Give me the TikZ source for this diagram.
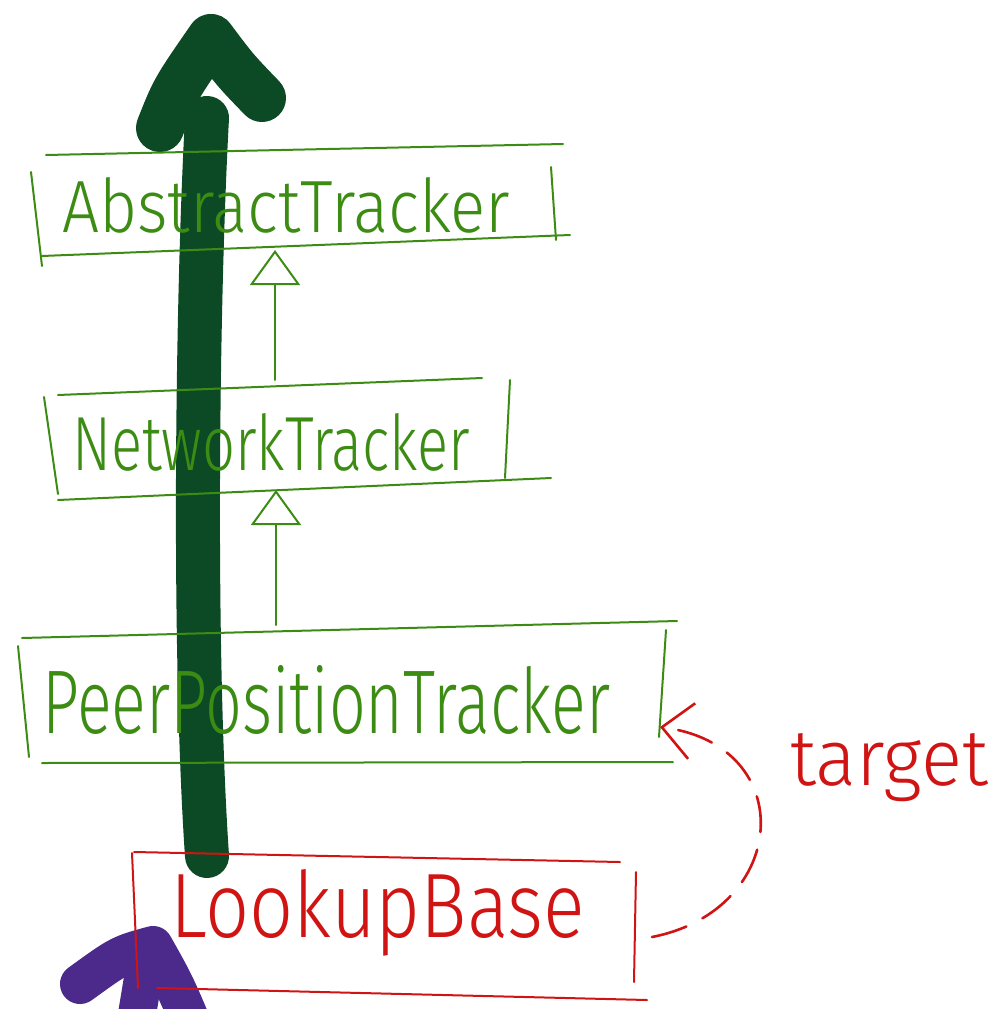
\documentclass[tikz,border=0pt]{standalone}
\usepackage{fontspec}
\usepackage{graphicx}
\newfontfamily\hand{Fira Sans}[UprightFont=* Light]
\usetikzlibrary{arrows.meta}
\definecolor{boxgreen}{HTML}{3C8C14}
\definecolor{bargreen}{HTML}{0B4A24}
\definecolor{penred}{HTML}{D01414}
\definecolor{penpurple}{HTML}{4B2A8C}
\begin{document}
\begin{tikzpicture}[x=1pt,y=-1pt,
  pen/.style={line width=2pt, line cap=round},
  greenpen/.style={pen, draw=boxgreen},
  redpen/.style={pen, draw=penred},
  classlabel/.style={inner sep=0pt, anchor=base west},
  marker/.style={line width=44pt, line cap=round, line join=round},
  inherit/.style={greenpen, -{Triangle[open, length=35pt, width=50pt]}},
  targetarrow/.style={redpen, line width=2.6pt, dash pattern=on 36pt off 18pt,
    -{Straight Barb[length=30pt, width=56pt]}},
]
\useasboundingbox (0,0) rectangle (990,1009);
\clip (0,0) rectangle (990,1009);

% thick marker strokes (drawn first, underneath)
\draw[marker, draw=bargreen] (207,118) .. controls (197,300) and (193,650) .. (207,856);
\draw[marker, line width=48pt, draw=bargreen]
  (160,128) .. controls (175,90) .. (211,38) .. controls (235,70) .. (262,98);
\draw[marker, line width=40pt, draw=penpurple]
  (80,984) .. controls (120,955) .. (153,946) .. controls (175,985) .. (200,1045);
\draw[marker, line width=38pt, draw=penpurple] (145,966) -- (132,1045);

% AbstractTracker box
\draw[greenpen] (46,155) -- (563,144);
\draw[greenpen] (42,256) -- (570,235);
\draw[greenpen] (31,172) -- (42,266);
\draw[greenpen] (551,167) -- (556,240);
\node[classlabel, text=boxgreen] (at) at (62,232) {\resizebox{448pt}{55pt}{\hand AbstractTracker}};

% NetworkTracker box
\draw[greenpen] (58,395) -- (482,378);
\draw[greenpen] (58,500) -- (551,478);
\draw[greenpen] (44,397) -- (58,494);
\draw[greenpen] (510,380) -- (505,478);
\node[classlabel, text=boxgreen] (nt) at (72,470) {\resizebox{398pt}{57pt}{\hand NetworkTracker}};

% PeerPositionTracker box
\draw[greenpen] (22,638) -- (677,621);
\draw[greenpen] (42,763) -- (673,762);
\draw[greenpen] (18,646) -- (29,757);
\draw[greenpen] (666,630) -- (659,737);
\node[classlabel, text=boxgreen] (ppt) at (42,733) {\resizebox{568pt}{68pt}{\hand PeerPositionTracker}};

% LookupBase box
\draw[redpen] (134,852) -- (620,862);
\draw[redpen] (157,988) -- (647,1000);
\draw[redpen] (132,853) -- (138,988);
\draw[redpen] (636,872) -- (634,982);
\node[classlabel, text=penred] (lb) at (170,937) {\resizebox{415pt}{68pt}{\hand LookupBase}};

% inheritance arrows
\coordinate (at-bottom) at (275,250);
\coordinate (nt-top) at (275,380);
\coordinate (nt-bottom) at (276,490);
\coordinate (ppt-top) at (276,625);
\draw[inherit] (nt-top) -- (at-bottom);
\draw[inherit] (ppt-top) -- (nt-bottom);

% target association
\coordinate (lb-right) at (652,937);
\coordinate (ppt-right) at (660,727);
\draw[targetarrow] (lb-right) .. controls (790,910) and (800,745) .. (ppt-right);
\node[classlabel, text=penred] (target) at (790,785) {\resizebox{198pt}{52pt}{\hand target}};
\end{tikzpicture}
\end{document}
